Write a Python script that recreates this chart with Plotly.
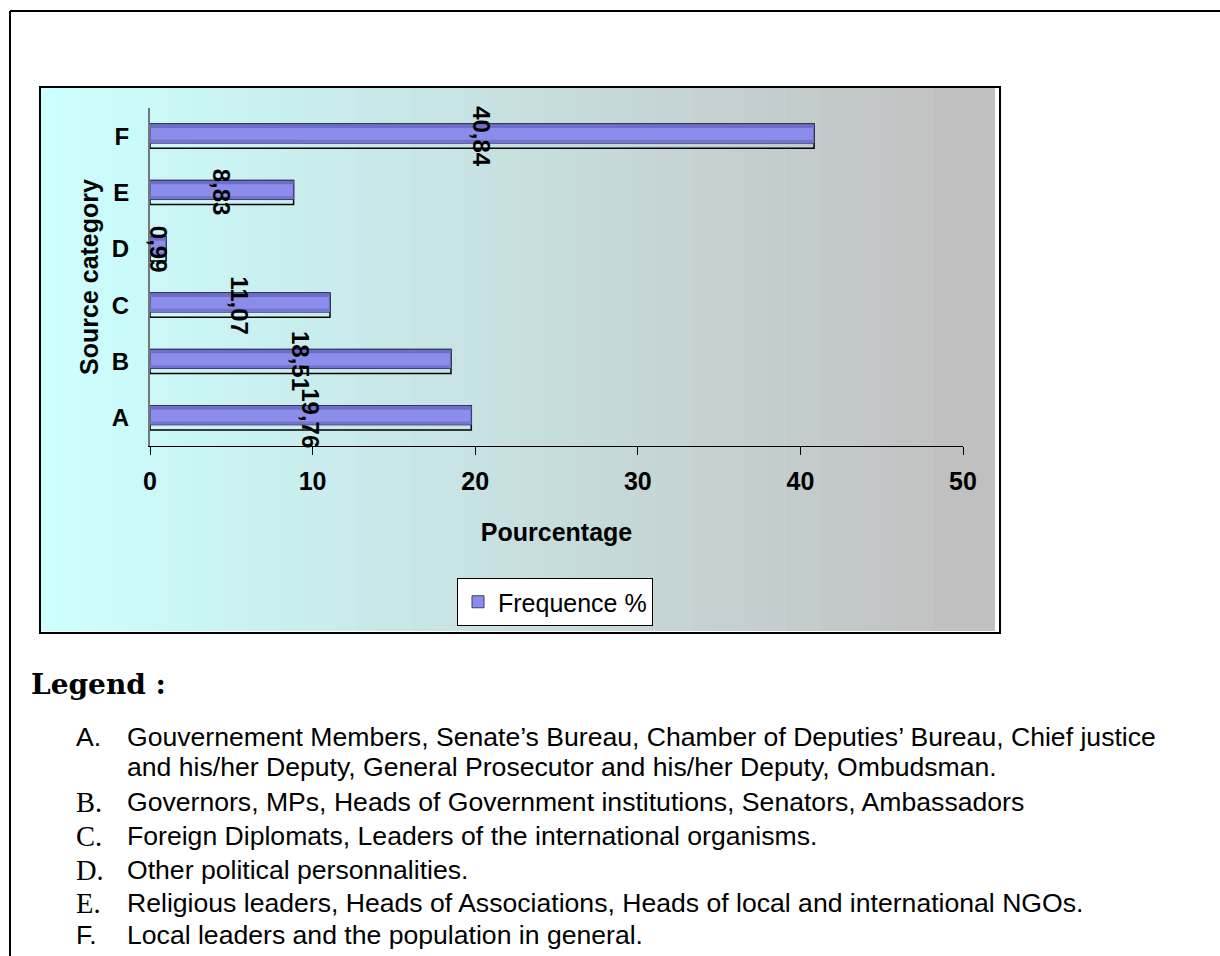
import plotly.graph_objects as go

# ---------------- data ----------------
categories = ["A", "B", "C", "D", "E", "F"]
frequence = [19.76, 18.51, 11.07, 0.99, 8.83, 40.84]
x_tick_values = [0, 10, 20, 30, 40, 50]
series_name = "Frequence %"
x_title = "Pourcentage"
y_title = "Source category"
legend_heading = "Legend :"
legend_letters = ["A.", "B.", "C.", "D.", "E.", "F."]
legend_lines = [
    ["Gouvernement Members, Senate\u2019s Bureau, Chamber of Deputies\u2019 Bureau, Chief justice",
     "and his/her Deputy, General Prosecutor and his/her Deputy, Ombudsman."],
    ["Governors, MPs, Heads of Government institutions, Senators, Ambassadors"],
    ["Foreign Diplomats, Leaders of the international organisms."],
    ["Other political personnalities."],
    ["Religious leaders, Heads of Associations, Heads of local and international NGOs."],
    ["Local leaders and the population in general."],
]
value_labels = [f"{v:.2f}".replace(".", ",") for v in frequence]

# ---------------- layout helpers ----------------
W, H = 1220, 956


def px(x):
    return x / W


def py(y):
    return 1 - y / H


SANS = "Liberation Sans, Arial, sans-serif"
SERIF = "Liberation Serif, Times New Roman, serif"

fig = go.Figure()

# 3D-like back outline of each bar
fig.add_trace(go.Bar(
    y=categories, x=frequence, orientation="h",
    width=0.43, offset=-0.215,
    marker=dict(color="rgba(0,0,0,0)", line=dict(color="black", width=1.5)),
    showlegend=False, hoverinfo="skip",
))
# front face of each bar
fig.add_trace(go.Bar(
    y=categories, x=frequence, orientation="h", name=series_name,
    width=0.34, offset=-0.125,
    marker=dict(color="#8C8CEB", line=dict(color="#3C3C78", width=1)),
))
# darker shading bands at top and bottom of the front face
fig.add_trace(go.Bar(
    y=categories, x=frequence, orientation="h",
    width=0.06, offset=0.145,
    marker=dict(color="#6E6EC8", line=dict(width=0)),
    showlegend=False, hoverinfo="skip",
))
fig.add_trace(go.Bar(
    y=categories, x=frequence, orientation="h",
    width=0.05, offset=-0.115,
    marker=dict(color="#7474CC", line=dict(width=0)),
    showlegend=False, hoverinfo="skip",
))

annotations = []
# value labels rotated, centred in each bar
for c, v, lab in zip(categories, frequence, value_labels):
    annotations.append(dict(
        x=v / 2, y=c, xref="x", yref="y", text=lab, showarrow=False,
        textangle=90, font=dict(family=SANS, size=24, color="black", weight="bold"),
        xanchor="center", yanchor="middle",
    ))

# text legend under the chart
annotations.append(dict(
    x=px(29), y=py(684), xref="paper", yref="paper", text="<b>" + legend_heading + "</b>",
    showarrow=False, xanchor="left", yanchor="middle",
    font=dict(family="DejaVu Serif, serif", size=28, color="black"),
))
line_y = [[737, 767], [802], [836], [870], [903], [935]]
serif_letters = {"B.", "C.", "D.", "E."}
for letter, lines, ys in zip(legend_letters, legend_lines, line_y):
    fam = SERIF if letter in serif_letters else SANS
    size = 28.5 if letter in serif_letters else 26.6
    annotations.append(dict(
        x=px(74), y=py(ys[0]), xref="paper", yref="paper", text=letter,
        showarrow=False, xanchor="left", yanchor="middle",
        font=dict(family=fam, size=size, color="black"),
    ))
    for t, yy in zip(lines, ys):
        annotations.append(dict(
            x=px(125), y=py(yy), xref="paper", yref="paper", text=t,
            showarrow=False, xanchor="left", yanchor="middle",
            font=dict(family=SANS, size=26.6, color="black"),
        ))

# background gradient (cyan -> grey) of the chart box as bands
shapes = []
gx0, gx1, gy0, gy1 = 41, 933, 88, 631
n = 48
c0 = (204, 255, 255)
c1 = (194, 195, 195)
step = (gx1 - gx0) / n
for i in range(n):
    t = i / (n - 1)
    col = tuple(round(a + (b - a) * t) for a, b in zip(c0, c1))
    shapes.append(dict(
        type="rect", xref="paper", yref="paper", layer="below",
        x0=px(gx0 + i * step), x1=px(gx0 + (i + 1) * step + 0.5), y0=py(gy1), y1=py(gy0),
        fillcolor=f"rgb{col}", line=dict(width=0),
    ))
shapes.append(dict(
    type="rect", xref="paper", yref="paper", layer="below",
    x0=px(gx1), x1=px(995), y0=py(gy1), y1=py(gy0),
    fillcolor="rgb(192,192,192)", line=dict(width=0),
))
# chart box border
shapes.append(dict(
    type="rect", xref="paper", yref="paper", layer="below",
    x0=px(40), x1=px(1000), y0=py(633), y1=py(87),
    fillcolor="rgba(0,0,0,0)", line=dict(color="black", width=2),
))
# outer page frame (top and left)
shapes.append(dict(type="line", xref="paper", yref="paper", x0=px(10), x1=1, y0=py(11), y1=py(11),
                   line=dict(color="black", width=2)))
shapes.append(dict(type="line", xref="paper", yref="paper", x0=px(10), x1=px(10), y0=0, y1=py(11),
                   line=dict(color="black", width=2)))

fig.update_layout(
    width=W, height=H,
    margin=dict(l=0, r=0, t=0, b=0, autoexpand=False),
    paper_bgcolor="white", plot_bgcolor="rgba(0,0,0,0)",
    barmode="overlay",
    showlegend=True,
    legend=dict(
        x=px(457), y=py(578), xanchor="left", yanchor="top",
        bgcolor="white", bordercolor="black", borderwidth=1,
        font=dict(family=SANS, size=25, color="black"),
    ),
    xaxis=dict(
        domain=[px(150), px(963)], range=[0, 50], tickvals=x_tick_values,
        showline=True, linecolor="black", linewidth=1,
        ticks="outside", ticklen=8, tickcolor="black",
        showgrid=False, zeroline=False, automargin=False,
        tickfont=dict(family=SANS, size=25, color="black", weight="bold"),
        ticklabelstandoff=5,
        title=dict(text=x_title, standoff=29,
                   font=dict(family=SANS, size=25, color="black", weight="bold")),
    ),
    yaxis=dict(
        domain=[py(446), py(108)], range=[-0.5, 5.5],
        type="category", categoryorder="array", categoryarray=categories,
        showline=True, linecolor="#707878", linewidth=2,
        ticks="", showgrid=False, zeroline=False, automargin=False,
        tickfont=dict(family=SANS, size=24, color="black", weight="bold"),
        ticklabelstandoff=14,
        title=dict(text=y_title, standoff=6,
                   font=dict(family=SANS, size=25, color="black", weight="bold")),
    ),
    annotations=annotations,
    shapes=shapes,
)

fig.write_html(
    "out.html",
    config={"displayModeBar": False},
    post_script="document.body.style.margin='0';document.body.style.overflow='hidden';",
)
